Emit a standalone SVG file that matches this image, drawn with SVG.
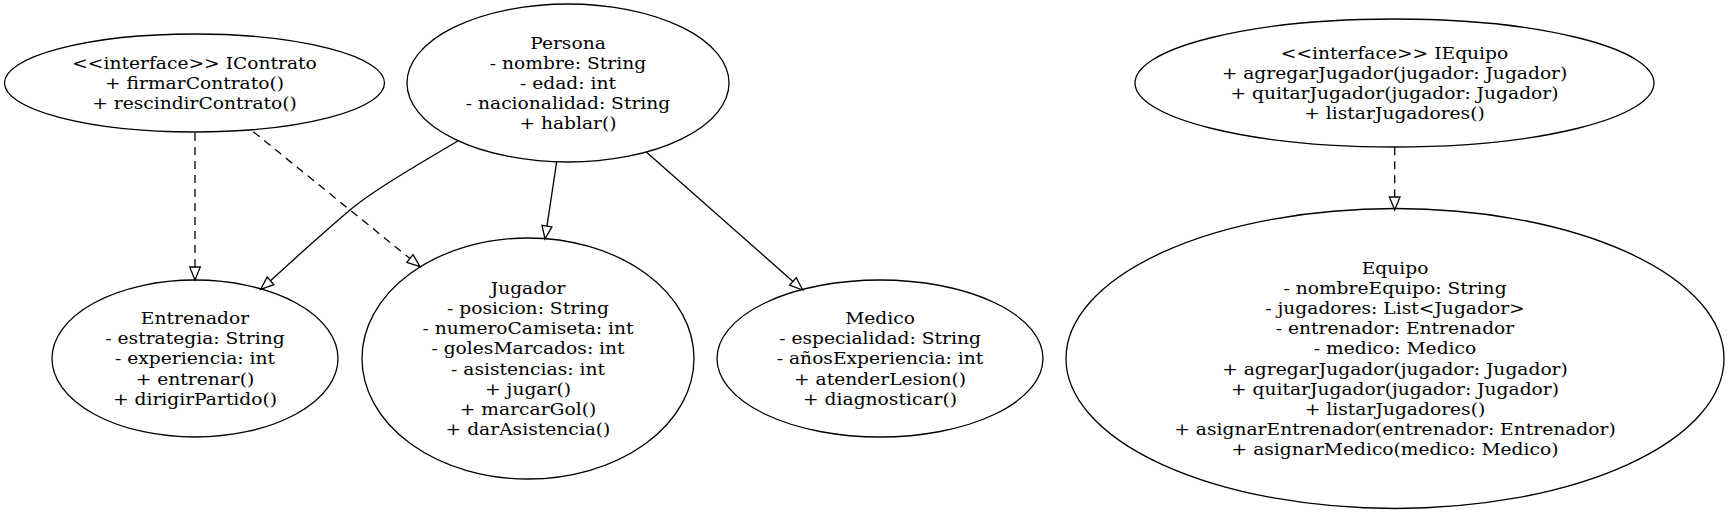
<svg xmlns="http://www.w3.org/2000/svg" width="1729" height="513" viewBox="0 0 1729 513">
<style>
.node ellipse{fill:none;stroke:#000;stroke-width:1.3}
.node text{font-family:"DejaVu Serif",serif;font-size:16.8px;fill:#000;text-anchor:middle}
.edge path{fill:none;stroke:#000;stroke-width:1.3}
.edge polygon{fill:none;stroke:#000;stroke-width:1.3}
.dash{stroke-dasharray:8,6}
</style>
<rect width="1729" height="513" fill="#fff"/>
<g id="edges" class="edge">
<path class="dash" d="M195,133 L195,267"/>
<polygon points="195,280 189.7,267 200.3,267"/>
<path class="dash" d="M253.3,131.7 L409.9,258.5"/>
<polygon points="420,266.7 406.8,262.4 413,254.6"/>
<path d="M458.3,140.7 C405,172 370,193 350,210 S292,261 270.5,280.8"/>
<polygon points="260.7,289.3 273.8,284.6 267.2,277"/>
<path d="M556.7,161.7 L546.95,226.1"/>
<polygon points="545,239 542,225.4 551.9,226.9"/>
<path d="M646,151.7 L792.95,281.4"/>
<polygon points="802.7,290 789.6,285.2 796.3,277.65"/>
<path class="dash" d="M1394.7,147.3 L1394.7,197"/>
<polygon points="1394.7,210 1389.4,197 1400,197"/>
</g>
<g id="IContrato" class="node">
<ellipse cx="194.5" cy="83" rx="190" ry="49"/>
<text transform="translate(194.5 0) scale(1.111 1)"><tspan x="0" y="68.84">&lt;&lt;interface&gt;&gt; IContrato</tspan><tspan x="0" dy="20.16">+ firmarContrato()</tspan><tspan x="0" dy="20.16">+ rescindirContrato()</tspan></text>
</g>
<g id="Persona" class="node">
<ellipse cx="568" cy="83" rx="161" ry="79"/>
<text transform="translate(568 0) scale(1.111 1)"><tspan x="0" y="48.68">Persona</tspan><tspan x="0" dy="20.16">- nombre: String</tspan><tspan x="0" dy="20.16">- edad: int</tspan><tspan x="0" dy="20.16">- nacionalidad: String</tspan><tspan x="0" dy="20.16">+ hablar()</tspan></text>
</g>
<g id="IEquipo" class="node">
<ellipse cx="1394.5" cy="83" rx="259.5" ry="64"/>
<text transform="translate(1394.5 0) scale(1.111 1)"><tspan x="0" y="58.76">&lt;&lt;interface&gt;&gt; IEquipo</tspan><tspan x="0" dy="20.16">+ agregarJugador(jugador: Jugador)</tspan><tspan x="0" dy="20.16">+ quitarJugador(jugador: Jugador)</tspan><tspan x="0" dy="20.16">+ listarJugadores()</tspan></text>
</g>
<g id="Entrenador" class="node">
<ellipse cx="195" cy="358.5" rx="143" ry="78.5"/>
<text transform="translate(195 0) scale(1.111 1)"><tspan x="0" y="324.18">Entrenador</tspan><tspan x="0" dy="20.16">- estrategia: String</tspan><tspan x="0" dy="20.16">- experiencia: int</tspan><tspan x="0" dy="20.16">+ entrenar()</tspan><tspan x="0" dy="20.16">+ dirigirPartido()</tspan></text>
</g>
<g id="Jugador" class="node">
<ellipse cx="528" cy="358.5" rx="166" ry="120.5"/>
<text transform="translate(528 0) scale(1.111 1)"><tspan x="0" y="293.94">Jugador</tspan><tspan x="0" dy="20.16">- posicion: String</tspan><tspan x="0" dy="20.16">- numeroCamiseta: int</tspan><tspan x="0" dy="20.16">- golesMarcados: int</tspan><tspan x="0" dy="20.16">- asistencias: int</tspan><tspan x="0" dy="20.16">+ jugar()</tspan><tspan x="0" dy="20.16">+ marcarGol()</tspan><tspan x="0" dy="20.16">+ darAsistencia()</tspan></text>
</g>
<g id="Medico" class="node">
<ellipse cx="880" cy="358.5" rx="163" ry="78.5"/>
<text transform="translate(880 0) scale(1.111 1)"><tspan x="0" y="324.18">Medico</tspan><tspan x="0" dy="20.16">- especialidad: String</tspan><tspan x="0" dy="20.16">- añosExperiencia: int</tspan><tspan x="0" dy="20.16">+ atenderLesion()</tspan><tspan x="0" dy="20.16">+ diagnosticar()</tspan></text>
</g>
<g id="Equipo" class="node">
<ellipse cx="1395" cy="358.5" rx="329" ry="150"/>
<text transform="translate(1395 0) scale(1.111 1)"><tspan x="0" y="273.78">Equipo</tspan><tspan x="0" dy="20.16">- nombreEquipo: String</tspan><tspan x="0" dy="20.16">- jugadores: List&lt;Jugador&gt;</tspan><tspan x="0" dy="20.16">- entrenador: Entrenador</tspan><tspan x="0" dy="20.16">- medico: Medico</tspan><tspan x="0" dy="20.16">+ agregarJugador(jugador: Jugador)</tspan><tspan x="0" dy="20.16">+ quitarJugador(jugador: Jugador)</tspan><tspan x="0" dy="20.16">+ listarJugadores()</tspan><tspan x="0" dy="20.16">+ asignarEntrenador(entrenador: Entrenador)</tspan><tspan x="0" dy="20.16">+ asignarMedico(medico: Medico)</tspan></text>
</g>
</svg>
